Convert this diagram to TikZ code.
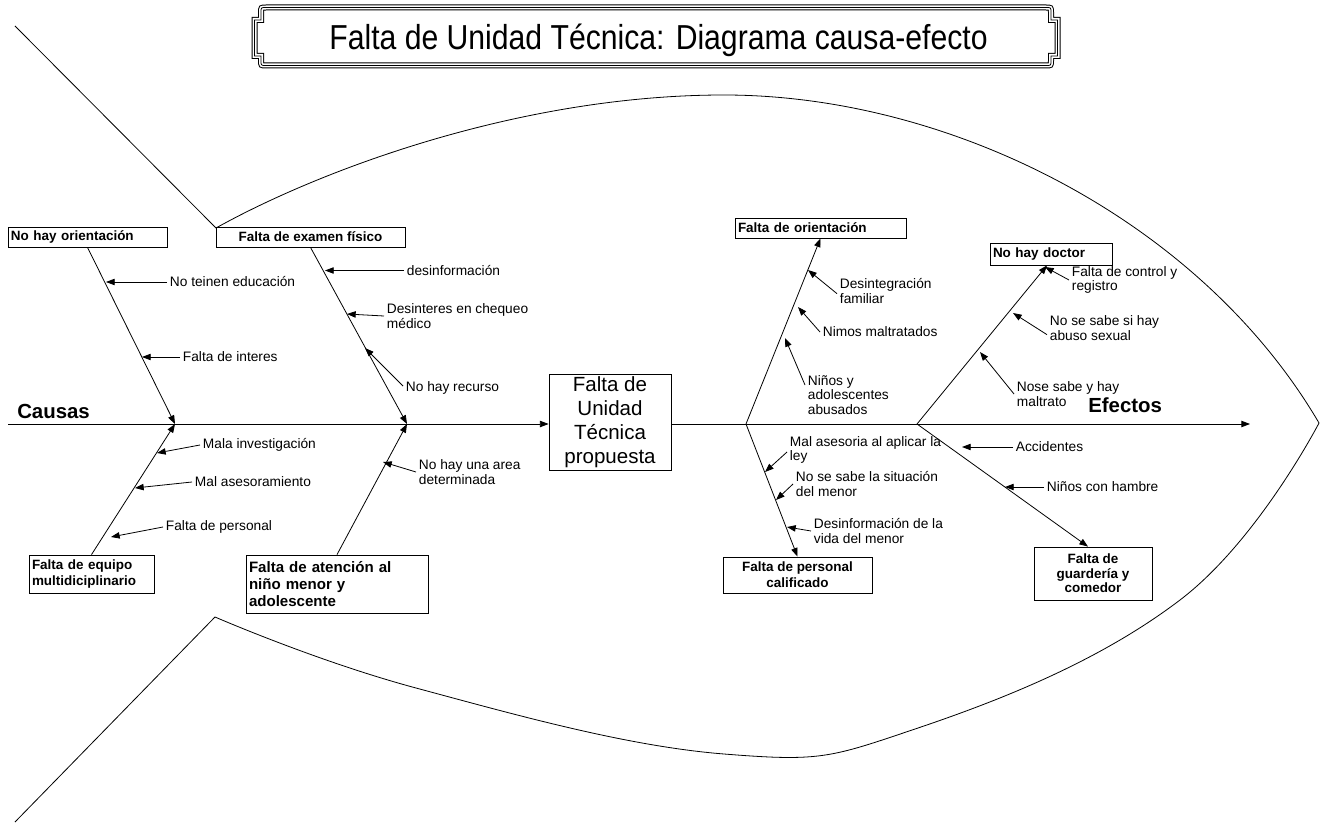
\documentclass[tikz,border=0pt]{standalone}
\usepackage{fontspec}
\usepackage{graphicx}
\setmainfont{Liberation Sans}
\usetikzlibrary{arrows.meta,calc}

\begin{document}
\begin{tikzpicture}[x=0.75pt,y=-0.75pt,
  line join=miter,
  stroke/.style={line width=0.6pt},
  arr/.style={line width=0.6pt,-{Triangle[length=6.5pt,width=4.8pt]}},
  lbl/.style={anchor=west,inner xsep=2pt,inner ysep=0pt,align=left,
              font=\fontsize{10.3}{10.9}\selectfont},
  cbox/.style={draw,line width=0.6pt,inner sep=0pt,
               font=\bfseries\fontsize{10.1}{12}\selectfont},
  hdr/.style={anchor=base west,inner sep=0pt,font=\bfseries\fontsize{15.3}{18}\selectfont}]

% canvas
\fill[white] (0,0) rectangle (1327,823);
\useasboundingbox (0,0) rectangle (1327,823);

% title frame (triple rule)
\def\framepath{(266,7.5) -- (1046,7.5) .. controls (1051,7.5) .. (1051,12.5)
  -- (1051,20) -- (1057.5,20) -- (1057.5,56) -- (1051,56) -- (1051,60.5)
  .. controls (1051,65.5) .. (1046,65.5) -- (266,65.5)
  .. controls (261,65.5) .. (261,60.5) -- (261,56) -- (254.5,56)
  -- (254.5,20) -- (261,20) -- (261,12.5) .. controls (261,7.5) .. (266,7.5) -- cycle}
\draw[line width=4.5pt,black] \framepath;
\draw[line width=3pt,white] \framepath;
\draw[line width=0.6pt,black] \framepath;
\node[anchor=base,inner sep=0pt,font=\fontsize{26}{30}\selectfont] (title) at (658.5,50)
  {\scalebox{0.87}[1]{Falta de Unidad Técnica: Diagrama causa-efecto}};

% fish outline
\draw[stroke] (15,26) -- (216,228)
  .. controls (320,170) and (520,95) .. (724,95)
  .. controls (950,95) and (1200,220) .. (1319,423);
\draw[stroke] plot[smooth,tension=0.7] coordinates
  {(1319,423) (1180,600) (918,728) (724,754) (416,688) (215,617)} -- (15,822);

% spine
\coordinate (sp0) at (8,424);
\coordinate (sp1) at (1250,424);
\coordinate (j1) at (175,424);
\coordinate (j2) at (407,424);
\coordinate (f1) at (746,424);
\coordinate (f2) at (917,424);

\node[cbox,font=\fontsize{15.4}{18}\selectfont,align=center,
      minimum width=91.5pt,minimum height=72pt] (cb) at (610,422)
  {Falta de\\Unidad\\Técnica\\propuesta};

\draw[arr] (sp0) -- (sp0 -| cb.west);
\draw[arr] (sp0 -| cb.east) -- (sp1);

\node[hdr] (causas) at (17,418) {Causas};
\node[hdr] (efectos) at (1088,412) {Efectos};

% cause boxes
\node[cbox,minimum width=119.25pt,minimum height=15pt,text width=114.75pt,align=left]
  (b1) at (87.5,237) {No hay orientación};
\node[cbox,minimum width=141.75pt,minimum height=15pt,align=center]
  (b2) at (310.5,237) {Falta de examen físico};
\node[cbox,minimum width=93.75pt,minimum height=28.5pt,text width=89.25pt,align=left,
      font=\bfseries\fontsize{10.1}{12.3}\selectfont]
  (b3) at (91.5,574) {Falta de equipo\\multidiciplinario};
\node[cbox,minimum width=136.5pt,minimum height=43.5pt,text width=132pt,align=left,
      font=\bfseries\fontsize{11.3}{12.75}\selectfont]
  (b4) at (337,584) {Falta de atención al\\niño menor y\\adolescente};

% effect boxes
\node[cbox,minimum width=128.25pt,minimum height=15pt,text width=123.75pt,align=left]
  (b5) at (820.5,228) {Falta de orientación};
\node[cbox,minimum width=111.75pt,minimum height=27pt,align=center,
      font=\bfseries\fontsize{10.1}{12}\selectfont]
  (b6) at (797.5,575) {Falta de personal\\calificado};
\node[cbox,minimum width=91.5pt,minimum height=16.5pt,text width=87pt,align=left]
  (b7) at (1051,254) {No hay doctor};
\node[cbox,minimum width=88.5pt,minimum height=39.75pt,align=center,
      font=\bfseries\fontsize{10.1}{10.9}\selectfont]
  (b8) at (1093,573.5) {Falta de\\guardería y\\comedor};

% main bones
\draw[arr] (b1.south) -- (j1);
\draw[arr] (b2.south) -- (j2);
\draw[arr] (b3.north) -- (j1);
\draw[arr] (b4.north) -- (j2);
\draw[arr] (f1) -- (b5.south);
\draw[arr] (f1) -- (b6.north);
\draw[arr] (f2) -- ([xshift=-3pt]b7.south);
\draw[arr] (f2) -- ([xshift=-3.75pt]b8.north);

% sub-causes, upper left
\node[lbl] (l1) at (167,282) {No teinen educación};
\node[lbl] (l2) at (180,357) {Falta de interes};
\node[lbl] (l3) at (404,270.5) {desinformación};
\node[lbl] (l4) at (384,316) {Desinteres en chequeo\\médico};
\node[lbl] (l5) at (403,388) {No hay recurso};
\coordinate (t1) at (106,282);
\coordinate (t2) at (142,357);
\coordinate (t3) at (325,270.5);
\coordinate (t4) at (347,314);
\coordinate (t5) at (365,348);
\draw[arr] (l1.west) -- (t1);
\draw[arr] (l2.west) -- (t2);
\draw[arr] (l3.west) -- (t3);
\draw[arr] (l4.west) -- (t4);
\draw[arr] ([yshift=1.5pt]l5.west) -- (t5);

% sub-causes, lower left
\node[lbl] (l6) at (200,445) {Mala investigación};
\node[lbl] (l7) at (192,482) {Mal asesoramiento};
\node[lbl] (l8) at (163,527) {Falta de personal};
\node[lbl] (l9) at (416,472) {No hay una area\\determinada};
\coordinate (t6) at (157,453);
\coordinate (t7) at (135,488);
\coordinate (t8) at (111,537);
\coordinate (t9) at (383,462);
\draw[arr] (l6.west) -- (t6);
\draw[arr] (l7.west) -- (t7);
\draw[arr] (l8.west) -- (t8);
\draw[arr] (l9.west) -- (t9);

% effects, first fork
\node[lbl] (r1) at (837,291) {Desintegración\\familiar};
\node[lbl] (r2) at (820,332) {Nimos maltratados};
\node[lbl] (r3) at (805,395) {Niños y\\adolescentes\\abusados};
\node[lbl] (r4) at (787,450) {Mal asesoria al aplicar la\\ley};
\node[lbl] (r5) at (793,484) {No se sabe la situación\\del menor};
\node[lbl] (r6) at (811,531) {Desinformación de la\\vida del menor};
\coordinate (u1) at (808,270);
\coordinate (u2) at (798,307);
\coordinate (u3) at (785,338);
\coordinate (u4) at (765,472);
\coordinate (u5) at (776,500);
\coordinate (u6) at (787,527);
\draw[arr] ([yshift=-2pt]r1.west) -- (u1);
\draw[arr] (r2.west) -- (u2);
\draw[arr] ([yshift=7.5pt]r3.west) -- (u3);
\draw[arr] ([yshift=-1.5pt]r4.west) -- (u4);
\draw[arr] (r5.west) -- (u5);
\draw[arr] (r6.west) -- (u6);

% effects, second fork
\node[lbl] (r7) at (1069,280) {Falta de control y\\registro};
\node[lbl] (r8) at (1047,328) {No se sabe si hay\\abuso sexual};
\node[lbl] (r9) at (1014,394) {Nose sabe y hay\\maltrato};
\node[lbl] (r10) at (1013,447) {Accidentes};
\node[lbl] (r11) at (1044,487) {Niños con hambre};
\coordinate (u7) at (1045,267);
\coordinate (u8) at (1013,313);
\coordinate (u9) at (980,352);
\coordinate (u10) at (962,447);
\coordinate (u11) at (1005,487);
\draw[arr] (r7.west) -- (u7);
\draw[arr] ([yshift=-5pt]r8.west) -- (u8);
\draw[arr] (r9.west) -- (u9);
\draw[arr] (r10.west) -- (u10);
\draw[arr] (r11.west) -- (u11);

\end{tikzpicture}
\end{document}
